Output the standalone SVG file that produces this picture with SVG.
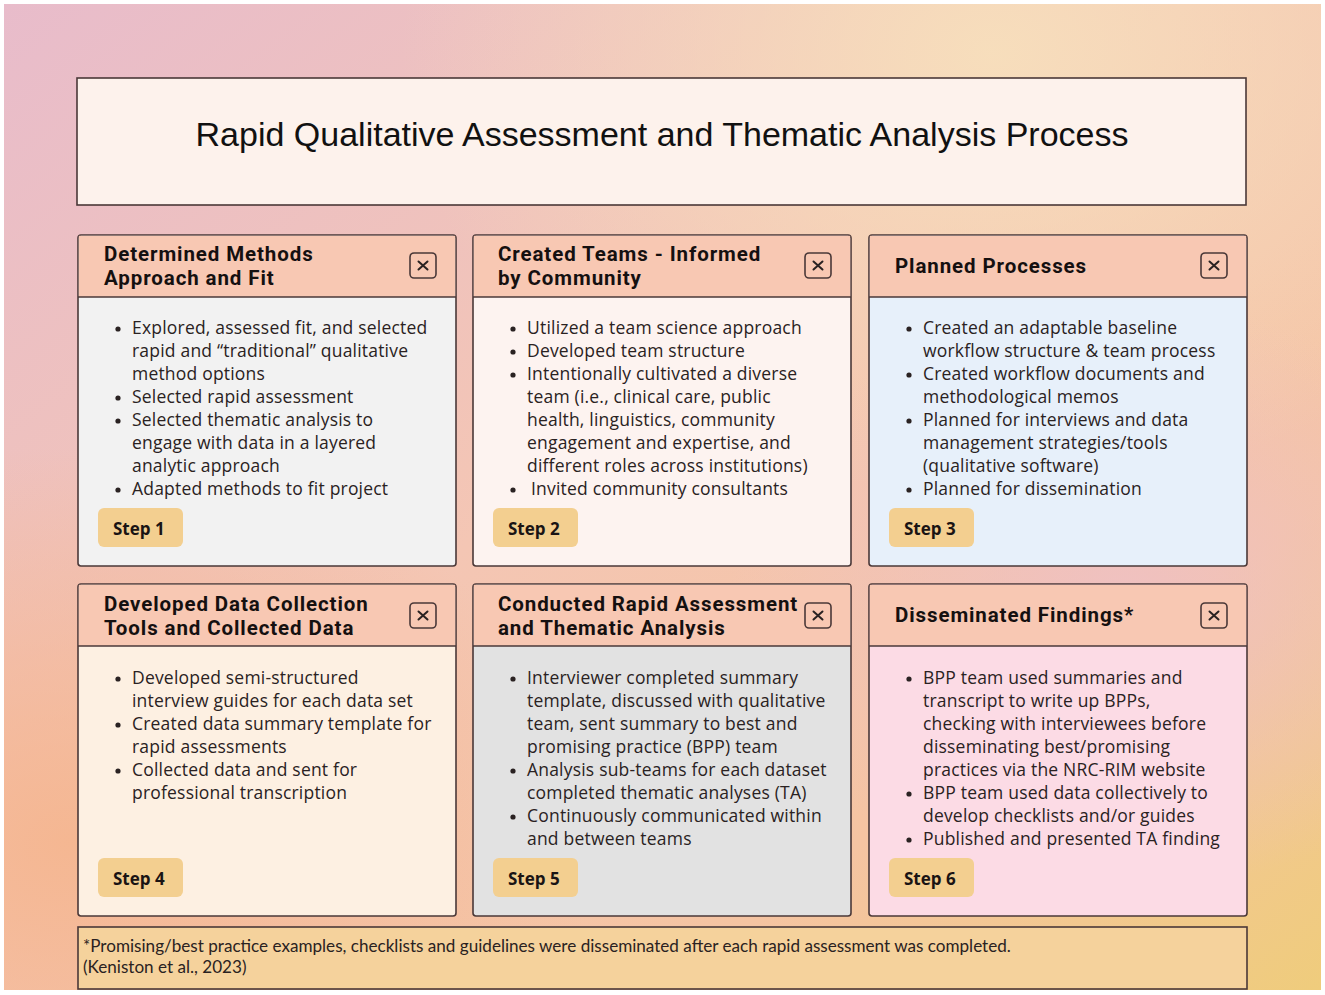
<svg xmlns="http://www.w3.org/2000/svg" width="1325" height="995" viewBox="0 0 1325 995">
<defs>
<linearGradient id="bg" x1="0" y1="0" x2="1" y2="1">
<stop offset="0" stop-color="#e8bccb"/>
<stop offset="0.45" stop-color="#f4c6b4"/>
<stop offset="0.75" stop-color="#f5c4a2"/>
<stop offset="1" stop-color="#efcc7c"/>
</linearGradient>
<radialGradient id="tr" cx="0.75" cy="0.05" r="0.45">
<stop offset="0" stop-color="#f7dfbc" stop-opacity="0.95"/>
<stop offset="1" stop-color="#f7dfbc" stop-opacity="0"/>
</radialGradient>
<radialGradient id="bl" cx="0.05" cy="0.85" r="0.4">
<stop offset="0" stop-color="#f5b58e" stop-opacity="0.9"/>
<stop offset="1" stop-color="#f5b58e" stop-opacity="0"/>
</radialGradient>
<radialGradient id="mr" cx="0.85" cy="0.6" r="0.3">
<stop offset="0" stop-color="#eec0c8" stop-opacity="0.8"/>
<stop offset="1" stop-color="#eec0c8" stop-opacity="0"/>
</radialGradient>
<style>
.card{stroke:#4a3838;stroke-width:1.6}
.hdr{fill:#f8c8b3}
.hline{stroke:#4a3838;stroke-width:1.6}
.ht{font-family:Roboto,"Liberation Sans",sans-serif;font-weight:700;font-size:20.5px;letter-spacing:0.9px;fill:#151010}
.bt{font-family:"Open Sans","Noto Sans",sans-serif;font-size:17.5px;letter-spacing:0.2px;fill:#2a2222}
.dot{fill:#2a2222}
.xb{fill:none;stroke:#4a3838;stroke-width:1.6}
.xl{stroke:#2a2222;stroke-width:2;stroke-linecap:round}
.badge{fill:#f3cf90}
.st{font-family:"Open Sans","Noto Sans",sans-serif;font-weight:700;font-size:17px;fill:#1a1414}
.ft{font-family:Lato,"Liberation Sans",sans-serif;font-size:17.1px;fill:#2a2222}
</style>
</defs>
<rect x="0" y="0" width="1325" height="995" fill="#ffffff"/>
<rect x="4" y="4" width="1317" height="986" fill="url(#bg)"/>
<rect x="4" y="4" width="1317" height="986" fill="url(#tr)"/>
<rect x="4" y="4" width="1317" height="986" fill="url(#bl)"/>
<rect x="4" y="4" width="1317" height="986" fill="url(#mr)"/>

<g id="title">
<rect x="77" y="78" width="1169" height="127" fill="#fdf2ec" class="card"/>
<text x="662" y="146" text-anchor="middle" font-family="'Liberation Sans',sans-serif" font-size="34" fill="#111">Rapid Qualitative Assessment and Thematic Analysis Process</text>
</g>

<g id="step1" transform="translate(78,235)">
<rect x="0" y="0" width="378" height="331" rx="3" fill="#f2f2f2" class="card"/>
<rect x="0.8" y="0.8" width="376.4" height="61.2" class="hdr"/>
<line x1="0" y1="62" x2="378" y2="62" class="hline"/>
<text class="ht" x="26" y="26">Determined Methods</text>
<text class="ht" x="26" y="50">Approach and Fit</text>
<rect x="332" y="18" width="26" height="25" rx="4" class="xb"/>
<path d="M340.5 26.5l9 8M349.5 26.5l-9 8" class="xl"/>
<g class="dot"><circle cx="40" cy="94" r="2.6"/><circle cx="40" cy="163" r="2.6"/><circle cx="40" cy="186" r="2.6"/><circle cx="40" cy="255" r="2.6"/></g>
<text class="bt"><tspan x="54" y="99">Explored, assessed fit, and selected</tspan><tspan x="54" y="122">rapid and “traditional” qualitative</tspan><tspan x="54" y="145">method options</tspan><tspan x="54" y="168">Selected rapid assessment</tspan><tspan x="54" y="191">Selected thematic analysis to</tspan><tspan x="54" y="214">engage with data in a layered</tspan><tspan x="54" y="237">analytic approach</tspan><tspan x="54" y="260">Adapted methods to fit project</tspan></text>
<rect x="20" y="273" width="85" height="39" rx="6" class="badge"/>
<text x="35" y="300" class="st">Step 1</text>
</g>

<g id="step2" transform="translate(473,235)">
<rect x="0" y="0" width="378" height="331" rx="3" fill="#fdf3f0" class="card"/>
<rect x="0.8" y="0.8" width="376.4" height="61.2" class="hdr"/>
<line x1="0" y1="62" x2="378" y2="62" class="hline"/>
<text class="ht" x="25" y="26">Created Teams - Informed</text>
<text class="ht" x="25" y="50">by Community</text>
<rect x="332" y="18" width="26" height="25" rx="4" class="xb"/>
<path d="M340.5 26.5l9 8M349.5 26.5l-9 8" class="xl"/>
<g class="dot"><circle cx="40" cy="94" r="2.6"/><circle cx="40" cy="117" r="2.6"/><circle cx="40" cy="140" r="2.6"/><circle cx="40" cy="255" r="2.6"/></g>
<text class="bt"><tspan x="54" y="99">Utilized a team science approach</tspan><tspan x="54" y="122">Developed team structure</tspan><tspan x="54" y="145">Intentionally cultivated a diverse</tspan><tspan x="54" y="168">team (i.e., clinical care, public</tspan><tspan x="54" y="191">health, linguistics, community</tspan><tspan x="54" y="214">engagement and expertise, and</tspan><tspan x="54" y="237">different roles across institutions)</tspan><tspan x="58" y="260">Invited community consultants</tspan></text>
<rect x="20" y="273" width="85" height="39" rx="6" class="badge"/>
<text x="35" y="300" class="st">Step 2</text>
</g>

<g id="step3" transform="translate(869,235)">
<rect x="0" y="0" width="378" height="331" rx="3" fill="#e7f0fa" class="card"/>
<rect x="0.8" y="0.8" width="376.4" height="61.2" class="hdr"/>
<line x1="0" y1="62" x2="378" y2="62" class="hline"/>
<text class="ht" x="26" y="38">Planned Processes</text>
<rect x="332" y="18" width="26" height="25" rx="4" class="xb"/>
<path d="M340.5 26.5l9 8M349.5 26.5l-9 8" class="xl"/>
<g class="dot"><circle cx="40" cy="94" r="2.6"/><circle cx="40" cy="140" r="2.6"/><circle cx="40" cy="186" r="2.6"/><circle cx="40" cy="255" r="2.6"/></g>
<text class="bt"><tspan x="54" y="99">Created an adaptable baseline</tspan><tspan x="54" y="122">workflow structure &amp; team process</tspan><tspan x="54" y="145">Created workflow documents and</tspan><tspan x="54" y="168">methodological memos</tspan><tspan x="54" y="191">Planned for interviews and data</tspan><tspan x="54" y="214">management strategies/tools</tspan><tspan x="54" y="237">(qualitative software)</tspan><tspan x="54" y="260">Planned for dissemination</tspan></text>
<rect x="20" y="273" width="85" height="39" rx="6" class="badge"/>
<text x="35" y="300" class="st">Step 3</text>
</g>

<g id="step4" transform="translate(78,584)">
<rect x="0" y="0" width="378" height="332" rx="3" fill="#fdf0e2" class="card"/>
<rect x="0.8" y="0.8" width="376.4" height="61.2" class="hdr"/>
<line x1="0" y1="62" x2="378" y2="62" class="hline"/>
<text class="ht" x="26" y="27">Developed Data Collection</text>
<text class="ht" x="26" y="51">Tools and Collected Data</text>
<rect x="332" y="19" width="26" height="25" rx="4" class="xb"/>
<path d="M340.5 27.5l9 8M349.5 27.5l-9 8" class="xl"/>
<g class="dot"><circle cx="40" cy="95" r="2.6"/><circle cx="40" cy="141" r="2.6"/><circle cx="40" cy="187" r="2.6"/></g>
<text class="bt"><tspan x="54" y="100">Developed semi-structured</tspan><tspan x="54" y="123">interview guides for each data set</tspan><tspan x="54" y="146">Created data summary template for</tspan><tspan x="54" y="169">rapid assessments</tspan><tspan x="54" y="192">Collected data and sent for</tspan><tspan x="54" y="215">professional transcription</tspan></text>
<rect x="20" y="274" width="85" height="39" rx="6" class="badge"/>
<text x="35" y="301" class="st">Step 4</text>
</g>

<g id="step5" transform="translate(473,584)">
<rect x="0" y="0" width="378" height="332" rx="3" fill="#e2e2e2" class="card"/>
<rect x="0.8" y="0.8" width="376.4" height="61.2" class="hdr"/>
<line x1="0" y1="62" x2="378" y2="62" class="hline"/>
<text class="ht" x="25" y="27">Conducted Rapid Assessment</text>
<text class="ht" x="25" y="51">and Thematic Analysis</text>
<rect x="332" y="19" width="26" height="25" rx="4" class="xb"/>
<path d="M340.5 27.5l9 8M349.5 27.5l-9 8" class="xl"/>
<g class="dot"><circle cx="40" cy="95" r="2.6"/><circle cx="40" cy="187" r="2.6"/><circle cx="40" cy="233" r="2.6"/></g>
<text class="bt"><tspan x="54" y="100">Interviewer completed summary</tspan><tspan x="54" y="123">template, discussed with qualitative</tspan><tspan x="54" y="146">team, sent summary to best and</tspan><tspan x="54" y="169">promising practice (BPP) team</tspan><tspan x="54" y="192">Analysis sub-teams for each dataset</tspan><tspan x="54" y="215">completed thematic analyses (TA)</tspan><tspan x="54" y="238">Continuously communicated within</tspan><tspan x="54" y="261">and between teams</tspan></text>
<rect x="20" y="274" width="85" height="39" rx="6" class="badge"/>
<text x="35" y="301" class="st">Step 5</text>
</g>

<g id="step6" transform="translate(869,584)">
<rect x="0" y="0" width="378" height="332" rx="3" fill="#fcdbe5" class="card"/>
<rect x="0.8" y="0.8" width="376.4" height="61.2" class="hdr"/>
<line x1="0" y1="62" x2="378" y2="62" class="hline"/>
<text class="ht" x="26" y="38">Disseminated Findings*</text>
<rect x="332" y="19" width="26" height="25" rx="4" class="xb"/>
<path d="M340.5 27.5l9 8M349.5 27.5l-9 8" class="xl"/>
<g class="dot"><circle cx="40" cy="95" r="2.6"/><circle cx="40" cy="210" r="2.6"/><circle cx="40" cy="256" r="2.6"/></g>
<text class="bt"><tspan x="54" y="100">BPP team used summaries and</tspan><tspan x="54" y="123">transcript to write up BPPs,</tspan><tspan x="54" y="146">checking with interviewees before</tspan><tspan x="54" y="169">disseminating best/promising</tspan><tspan x="54" y="192">practices via the NRC-RIM website</tspan><tspan x="54" y="215">BPP team used data collectively to</tspan><tspan x="54" y="238">develop checklists and/or guides</tspan><tspan x="54" y="261">Published and presented TA finding</tspan></text>
<rect x="20" y="274" width="85" height="39" rx="6" class="badge"/>
<text x="35" y="301" class="st">Step 6</text>
</g>

<g id="footnote">
<rect x="78" y="927" width="1169" height="62" fill="#f5d29c" class="card"/>
<text class="ft" x="83" y="952">*Promising/best practice examples, checklists and guidelines were disseminated after each rapid assessment was completed.</text>
<text class="ft" x="83" y="973">(Keniston et al., 2023)</text>
</g>
</svg>
